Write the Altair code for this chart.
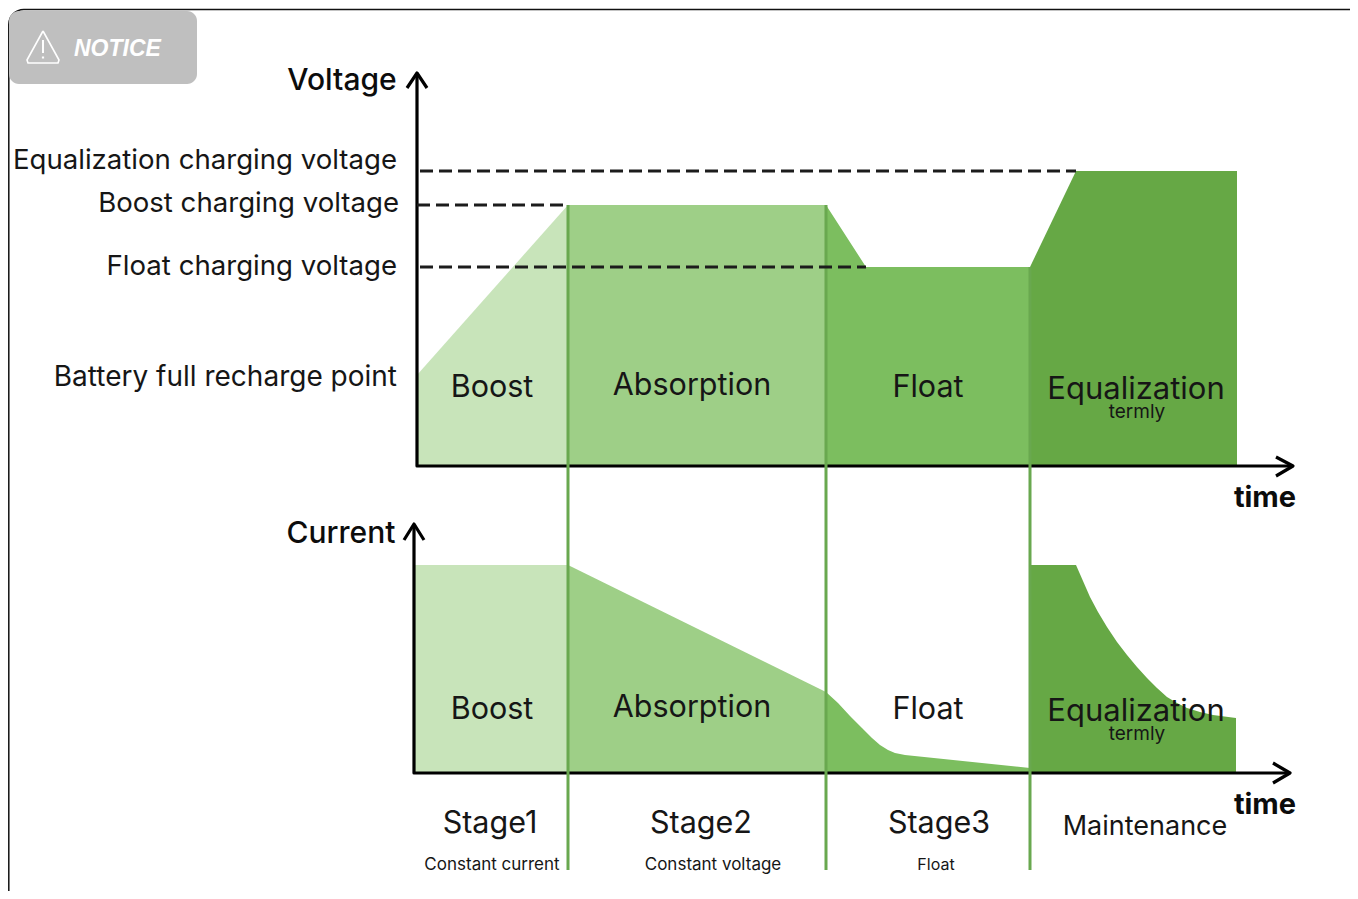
import altair as alt
import pandas as pd

# Reading frame of the picture
X_DOMAIN = [8, 1350]
Y_DOMAIN = [8, 891]

C_BOOST, C_ABS, C_FLOAT, C_EQ = "#c8e4ba", "#9ecf87", "#7cbe5f", "#66a845"
C_DIV = "#69a84f"

# Voltage panel
V_BASE = 465
v_boost_x = [417, 568]
v_boost_y = [375, 205]
v_abs_x = [568, 826]
v_abs_y = [205, 205]
v_float_x = [826, 866, 1030]
v_float_y = [205, 267, 267]
v_eq_x = [1030, 1076, 1237]
v_eq_y = [267, 171, 171]

# Current panel
I_BASE = 773
i_boost_x = [414, 568]
i_boost_y = [565, 565]
i_abs_x = [568, 826]
i_abs_y = [565, 692]
i_float_x = [826, 838, 850, 862, 872, 880, 888, 895, 905, 1030]
i_float_y = [692, 703, 716, 728, 738, 745, 750, 753, 755, 768]
i_eq_x = [1030, 1076, 1083, 1090, 1098, 1107, 1117, 1127, 1137, 1147, 1157, 1167, 1177, 1187, 1200, 1213, 1236]
i_eq_y = [565, 565, 581, 597, 612, 627, 642, 655, 667, 678, 688, 697, 703, 708, 712, 715, 718]

# Stage dividers
div_x = [568, 826, 1030]
div_top = [205, 205, 267]
div_bottom = 870

# Dashed reference levels
dash_y = [171, 205, 267]
dash_x0 = [420, 417, 420]
dash_x1 = [1076, 568, 866]

sans = "Inter"
labels_right = [
    ("Equalization charging voltage", 397, 168.5, 27.6),
    ("Boost charging voltage", 399, 211.5, 27.6),
    ("Float charging voltage", 397, 274.5, 27.6),
    ("Battery full recharge point", 397, 385.5, 28),
]
labels_center = [
    ("Boost", 492, 396.5, 30.5),
    ("Absorption", 692, 394.5, 30.5),
    ("Float", 928, 396.5, 30.5),
    ("Equalization", 1136, 398.5, 31),
    ("termly", 1137, 418, 19),
    ("Boost", 492, 718.5, 30.5),
    ("Absorption", 692, 716.5, 30.5),
    ("Float", 928, 718.5, 30.5),
    ("Equalization", 1136, 720.5, 31),
    ("termly", 1137, 740, 19),
    ("Stage1", 490, 833, 30.5),
    ("Stage2", 701, 833, 30.5),
    ("Stage3", 939, 833, 30.5),
    ("Maintenance", 1145, 834.5, 27),
    ("Constant current", 492, 870, 17),
    ("Constant voltage", 713, 870, 17),
    ("Float", 936, 870, 16),
]
labels_bold = [
    ("Voltage", 342, 90, 30, 500),
    ("Current", 341, 543, 30, 500),
    ("time", 1265, 507, 29, 700),
    ("time", 1265, 814, 29, 700),
]

sx = alt.Scale(domain=X_DOMAIN, nice=False, zero=False)
sy = alt.Scale(domain=Y_DOMAIN, range=[0, Y_DOMAIN[1] - Y_DOMAIN[0]], nice=False, zero=False)
X = lambda f: alt.X(f, type="quantitative", scale=sx, axis=None)
Y = lambda f: alt.Y(f, type="quantitative", scale=sy, axis=None)


def area(xs, ys, base, color):
    d = pd.DataFrame({"x": xs, "y": ys, "b": [base] * len(xs)})
    return alt.Chart(d).mark_area(color=color, opacity=1, interpolate="linear").encode(
        x=X("x"), y=alt.Y("y:Q", scale=sy, axis=None, stack=None), y2="b:Q")


def line(xs, ys, color="#000000", w=3, dash=None, cap="butt"):
    d = pd.DataFrame({"x": xs, "y": ys, "i": range(len(xs))})
    kw = dict(color=color, strokeWidth=w, strokeCap=cap, strokeJoin="round")
    if dash:
        kw["strokeDash"] = dash
    return alt.Chart(d).mark_line(**kw).encode(x=X("x"), y=Y("y"), order="i:Q")


def text(t, x, y, size, weight=400, color="#161616", font=sans, style=None, align="center"):
    d = pd.DataFrame({"x": [x], "y": [y], "t": [t]})
    kw = dict(fontSize=size, fontWeight=weight, color=color, font=font, align=align, baseline="alphabetic")
    if style:
        kw["fontStyle"] = style
    return alt.Chart(d).mark_text(**kw).encode(x=X("x"), y=Y("y"), text="t:N")


layers = []

# frame and notice badge
frame = pd.DataFrame({"x": [8.8], "x2": [1400], "y": [9.5], "y2": [905]})
layers.append(alt.Chart(frame).mark_rect(fillOpacity=0, stroke="#111111", strokeWidth=1.5,
                                         cornerRadius=15, clip=True).encode(
    x=X("x"), x2="x2:Q", y=Y("y"), y2="y2:Q"))
badge = pd.DataFrame({"x": [9], "x2": [197], "y": [11], "y2": [84]})
layers.append(alt.Chart(badge).mark_rect(fill="#bfbfbf", cornerRadius=10).encode(
    x=X("x"), x2="x2:Q", y=Y("y"), y2="y2:Q"))
layers.append(line([43, 27, 28, 58, 59, 43], [31, 60, 63, 63, 60, 31], "#ffffff", 1.6))
layers.append(line([43, 43], [40, 53], "#ffffff", 2))
layers.append(line([43, 43], [56.5, 58.5], "#ffffff", 2.2))
layers.append(text("NOTICE", 74, 56, 23, 700, "#ffffff", "Liberation Sans", "italic", "left"))

# areas
layers += [
    area(v_boost_x, v_boost_y, V_BASE, C_BOOST),
    area(v_abs_x, v_abs_y, V_BASE, C_ABS),
    area(v_float_x, v_float_y, V_BASE, C_FLOAT),
    area(v_eq_x, v_eq_y, V_BASE, C_EQ),
    area(i_boost_x, i_boost_y, I_BASE, C_BOOST),
    area(i_abs_x, i_abs_y, I_BASE, C_ABS),
    area(i_float_x, i_float_y, I_BASE, C_FLOAT),
    area(i_eq_x, i_eq_y, I_BASE, C_EQ),
]

# axes with arrows
layers += [
    line([417, 417, 1292], [74, 466, 466], w=3.2),
    line([407, 417, 427], [88, 73, 88], w=3.2),
    line([1276, 1293, 1276], [457, 466, 476], w=3.2),
    line([414, 414, 1290], [525, 773, 773], w=3.2),
    line([404, 414, 424], [540, 524, 540], w=3.2),
    line([1273, 1290, 1273], [763, 773, 783], w=3.2),
]

# dividers
for x, t in zip(div_x, div_top):
    layers.append(line([x, x], [t, div_bottom], C_DIV, 3))

# dashes
for y, a, b in zip(dash_y, dash_x0, dash_x1):
    layers.append(line([a, b], [y, y], "#1c1c1c", 3, [13, 6]))

# text
for t, x, y, s in labels_right:
    layers.append(text(t, x, y, s, align="right"))
for t, x, y, s in labels_center:
    layers.append(text(t, x, y, s))
for t, x, y, s, w in labels_bold:
    layers.append(text(t, x, y, s, w, "#0c0c0c"))

chart = alt.layer(*layers).properties(
    width=X_DOMAIN[1] - X_DOMAIN[0],
    height=Y_DOMAIN[1] - Y_DOMAIN[0],
    padding=0,
    background="#ffffff",
    autosize=alt.AutoSizeParams(type="none"),
).configure_view(stroke=None)

chart.save("out.html", embed_options={"renderer": "svg", "actions": False})
